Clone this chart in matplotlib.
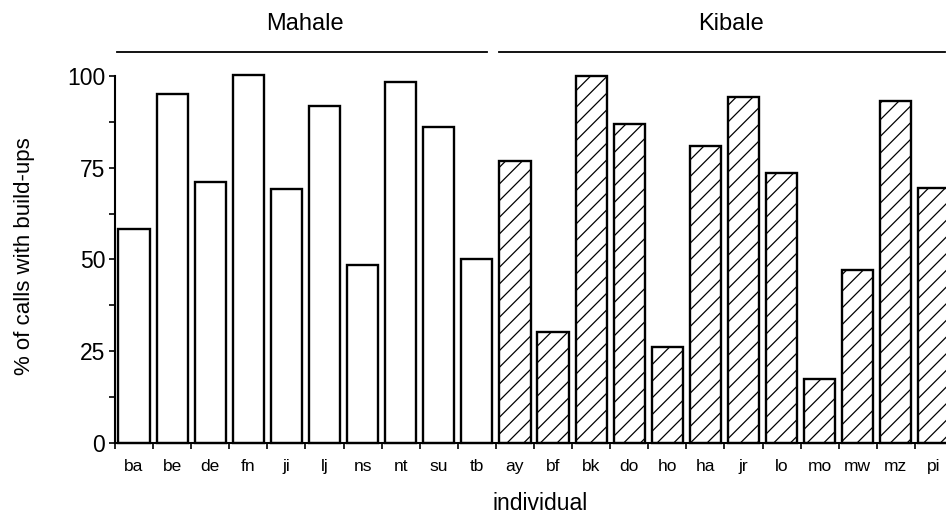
import matplotlib
matplotlib.use("Agg")
import matplotlib.pyplot as plt
import numpy as np

plt.rcParams['font.family'] = ['Liberation Sans', 'DejaVu Sans']
plt.rcParams['hatch.linewidth'] = 0.9

mahale_names = ["ba", "be", "de", "fn", "ji", "lj", "ns", "nt", "su", "tb"]
mahale_vals = [58.2, 95.0, 71.1, 100.2, 69.2, 91.9, 48.5, 98.3, 86.2, 50.2]
kibale_names = ["ay", "bf", "bk", "do", "ho", "ha", "jr", "lo", "mo", "mw", "mz", "pi"]
kibale_vals = [76.8, 30.3, 100.1, 87.0, 26.2, 81.0, 94.4, 73.5, 17.4, 47.1, 93.2, 69.4]
group_labels = ["Mahale", "Kibale"]
y_ticks = [0, 25, 50, 75, 100]

W, H = 946, 517
fig = plt.figure(figsize=(W / 100, H / 100), dpi=100)
ax = fig.add_axes([115 / W, 1 - 442.7 / H, 838 / W, (442.7 - 68.7) / H])

n_m = len(mahale_names)
n_k = len(kibale_names)
x_m = np.arange(n_m)
x_k = np.arange(n_m, n_m + n_k)

bw = 0.82
ax.bar(x_m, mahale_vals, width=bw, color="white", edgecolor="black",
       linewidth=1.7, zorder=2, clip_on=False)
ax.bar(x_k, kibale_vals, width=bw, color="white", edgecolor="black",
       linewidth=1.7, hatch="//", zorder=2, clip_on=False)

n = n_m + n_k
ax.set_xlim(-0.5, n - 0.5)
ax.set_ylim(0, 102)

ax.spines['top'].set_visible(False)
ax.spines['right'].set_visible(False)
ax.spines['left'].set_bounds(0, 100)
ax.spines['left'].set_linewidth(1.5)
ax.spines['bottom'].set_linewidth(1.5)

ax.set_yticks(y_ticks)
ax.set_yticks(np.arange(12.5, 100, 25), minor=True)
ax.tick_params(axis='y', which='major', direction='out', length=4, width=1.2,
               labelsize=16.5, pad=3)
ax.tick_params(axis='y', which='minor', direction='out', length=4, width=1.2)

ax.set_xticks(np.arange(n))
ax.set_xticklabels(mahale_names + kibale_names)
ax.set_xticks(np.arange(-0.5, n, 1.0), minor=True)
ax.tick_params(axis='x', which='major', length=0, labelsize=12.5, pad=12)
ax.tick_params(axis='x', which='minor', direction='out', length=4, width=1.2)

ax.set_ylabel("% of calls with build-ups", fontsize=16)
ax.yaxis.set_label_coords(-0.096, 0.5)

# group brackets
ax.plot([-0.45, 9.27], [106.5, 106.5], color="black", lw=1.3, clip_on=False)
ax.plot([9.58, 21.3], [106.5, 106.5], color="black", lw=1.3, clip_on=False)
ax.text(4.49, 114.3, group_labels[0], ha="center", va="center", fontsize=17, clip_on=False)
ax.text(15.67, 114.3, group_labels[1], ha="center", va="center", fontsize=17, clip_on=False)

fig.text(540 / W, 1 - 503 / H, "individual", ha="center", va="center", fontsize=16.5)

fig.savefig("out.png", dpi=100)
